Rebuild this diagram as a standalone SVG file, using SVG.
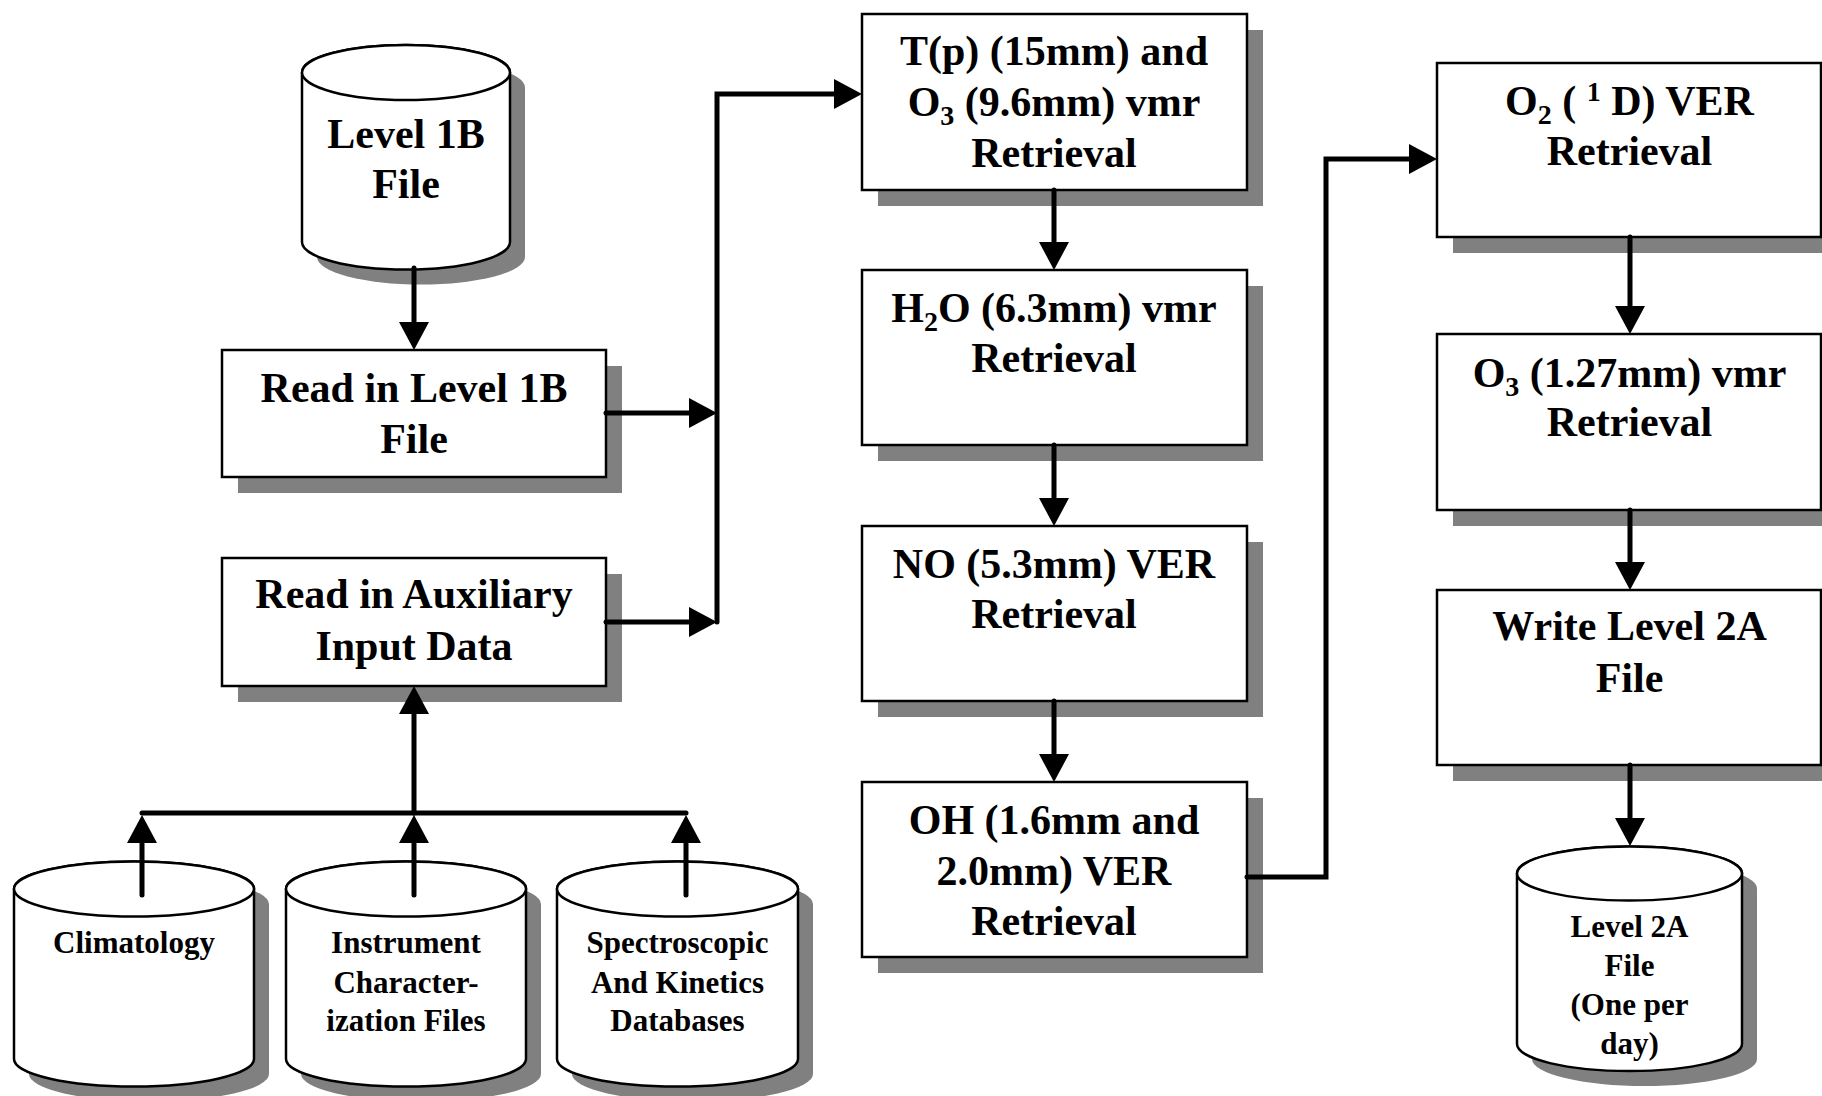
<svg xmlns="http://www.w3.org/2000/svg" width="1822" height="1096" viewBox="0 0 1822 1096">
<defs>
<style>
.shadow{fill:#808080;stroke:none}
.box{fill:#fff;stroke:#000;stroke-width:2.5}
.t{font-family:"Liberation Serif","Times New Roman",serif;font-weight:bold;font-size:42px;text-anchor:middle;fill:#000}
.ts{font-size:31px}
.conn{fill:none;stroke:#000;stroke-width:5;stroke-linecap:round;stroke-linejoin:miter}
</style>
<marker id="ah" markerUnits="userSpaceOnUse" markerWidth="28" markerHeight="30" viewBox="0 0 28 30" refX="8" refY="15" orient="auto">
<path d="M0,0 L28,15 L0,30 Z" fill="#000"/>
</marker>
</defs>
<rect width="1822" height="1096" fill="#fff"/>

<g id="level1b-file">
<path class="shadow" d="M317,87.5 V257 A104,27.5 0 0 0 525,257 V87.5 A104,27.5 0 0 0 317,87.5 Z"/>
<path class="box" d="M302,72.5 V242 A104,27.5 0 0 0 510,242 V72.5 A104,27.5 0 0 0 302,72.5 Z"/>
<ellipse class="box" cx="406" cy="72.5" rx="104" ry="27.5"/>
<text class="t" x="406" y="148">Level 1B</text>
<text class="t" x="406" y="198">File</text>
</g>

<g id="read-level1b">
<rect class="shadow" x="238" y="366" width="384" height="127"/>
<rect class="box" x="222" y="350" width="384" height="127"/>
<text class="t" x="414" y="402">Read in Level 1B</text>
<text class="t" x="414" y="453">File</text>
</g>

<g id="read-aux">
<rect class="shadow" x="238" y="574" width="384" height="128"/>
<rect class="box" x="222" y="558" width="384" height="128"/>
<text class="t" x="414" y="608">Read in Auxiliary</text>
<text class="t" x="414" y="660">Input Data</text>
</g>

<g id="climatology">
<path class="shadow" d="M29,904 V1074 A120,27.5 0 0 0 269,1074 V904 A120,27.5 0 0 0 29,904 Z"/>
<path class="box" d="M14,889 V1059 A120,27.5 0 0 0 254,1059 V889 A120,27.5 0 0 0 14,889 Z"/>
<ellipse class="box" cx="134" cy="889" rx="120" ry="27.5"/>
<text class="t ts" x="134" y="953">Climatology</text>
</g>

<g id="instrument">
<path class="shadow" d="M301,904 V1074 A120,27.5 0 0 0 541,1074 V904 A120,27.5 0 0 0 301,904 Z"/>
<path class="box" d="M286,889 V1059 A120,27.5 0 0 0 526,1059 V889 A120,27.5 0 0 0 286,889 Z"/>
<ellipse class="box" cx="406" cy="889" rx="120" ry="27.5"/>
<text class="t ts" x="406" y="953">Instrument</text>
<text class="t ts" x="406" y="993">Character-</text>
<text class="t ts" x="406" y="1031">ization Files</text>
</g>

<g id="spectroscopic">
<path class="shadow" d="M572,904 V1074 A120.5,27.5 0 0 0 813,1074 V904 A120.5,27.5 0 0 0 572,904 Z"/>
<path class="box" d="M557,889 V1059 A120.5,27.5 0 0 0 798,1059 V889 A120.5,27.5 0 0 0 557,889 Z"/>
<ellipse class="box" cx="677.5" cy="889" rx="120.5" ry="27.5"/>
<text class="t ts" x="677.5" y="953">Spectroscopic</text>
<text class="t ts" x="677.5" y="993">And Kinetics</text>
<text class="t ts" x="677.5" y="1031">Databases</text>
</g>

<g id="tp-o3-retrieval">
<rect class="shadow" x="878" y="30" width="385" height="176"/>
<rect class="box" x="862" y="14" width="385" height="176"/>
<text class="t" x="1054" y="65">T(p) (15mm) and</text>
<text class="t" x="1054" y="116">O<tspan font-size="28" dy="9">3</tspan><tspan dy="-9"> (9.6mm) vmr</tspan></text>
<text class="t" x="1054" y="167">Retrieval</text>
</g>

<g id="h2o-retrieval">
<rect class="shadow" x="878" y="286" width="385" height="175"/>
<rect class="box" x="862" y="270" width="385" height="175"/>
<text class="t" x="1054" y="322">H<tspan font-size="28" dy="9">2</tspan><tspan dy="-9">O (6.3mm) vmr</tspan></text>
<text class="t" x="1054" y="372">Retrieval</text>
</g>

<g id="no-retrieval">
<rect class="shadow" x="878" y="542" width="385" height="175"/>
<rect class="box" x="862" y="526" width="385" height="175"/>
<text class="t" x="1054" y="578">NO (5.3mm) VER</text>
<text class="t" x="1054" y="628">Retrieval</text>
</g>

<g id="oh-retrieval">
<rect class="shadow" x="878" y="798" width="385" height="175"/>
<rect class="box" x="862" y="782" width="385" height="175"/>
<text class="t" x="1054" y="834">OH (1.6mm and</text>
<text class="t" x="1054" y="885">2.0mm) VER</text>
<text class="t" x="1054" y="935">Retrieval</text>
</g>

<g id="o2-retrieval">
<rect class="shadow" x="1453" y="79" width="384" height="174"/>
<rect class="box" x="1437" y="63" width="384" height="174"/>
<text class="t" x="1629.5" y="115">O<tspan font-size="28" dy="9">2</tspan><tspan dy="-9"> ( </tspan><tspan font-size="28" dy="-14">1</tspan><tspan dy="14"> D) VER</tspan></text>
<text class="t" x="1629.5" y="165">Retrieval</text>
</g>

<g id="o3-retrieval">
<rect class="shadow" x="1453" y="350" width="384" height="176"/>
<rect class="box" x="1437" y="334" width="384" height="176"/>
<text class="t" x="1629.5" y="387">O<tspan font-size="28" dy="9">3</tspan><tspan dy="-9"> (1.27mm) vmr</tspan></text>
<text class="t" x="1629.5" y="436">Retrieval</text>
</g>

<g id="write-level2a">
<rect class="shadow" x="1453" y="606" width="384" height="175"/>
<rect class="box" x="1437" y="590" width="384" height="175"/>
<text class="t" x="1629.5" y="640">Write Level 2A</text>
<text class="t" x="1629.5" y="692">File</text>
</g>

<g id="level2a-file">
<path class="shadow" d="M1532,888.5 V1059 A112.5,27 0 0 0 1757,1059 V888.5 A112.5,27 0 0 0 1532,888.5 Z"/>
<path class="box" d="M1517,873.5 V1044 A112.5,27 0 0 0 1742,1044 V873.5 A112.5,27 0 0 0 1517,873.5 Z"/>
<ellipse class="box" cx="1629.5" cy="873.5" rx="112.5" ry="27"/>
<text class="t ts" x="1629.5" y="937">Level 2A</text>
<text class="t ts" x="1629.5" y="976">File</text>
<text class="t ts" x="1629.5" y="1015">(One per</text>
<text class="t ts" x="1629.5" y="1054">day)</text>
</g>

<g id="connectors">
<path class="conn" marker-end="url(#ah)" d="M414,268 V330"/>
<path class="conn" marker-end="url(#ah)" d="M606,413 H697"/>
<path class="conn" marker-end="url(#ah)" d="M606,622 H697"/>
<path class="conn" marker-end="url(#ah)" d="M717,622 V94 H842"/>
<path class="conn" marker-end="url(#ah)" d="M1054,190 V250"/>
<path class="conn" marker-end="url(#ah)" d="M1054,445 V506"/>
<path class="conn" marker-end="url(#ah)" d="M1054,701 V762"/>
<path class="conn" marker-end="url(#ah)" d="M1247,877 H1326 V159 H1417"/>
<path class="conn" marker-end="url(#ah)" d="M1630,237 V314"/>
<path class="conn" marker-end="url(#ah)" d="M1630,510 V570"/>
<path class="conn" marker-end="url(#ah)" d="M1630,765 V826"/>
<path class="conn" marker-end="url(#ah)" d="M414,813 V706"/>
<path class="conn" d="M142,813 H686"/>
<path class="conn" marker-end="url(#ah)" d="M142,895 V835"/>
<path class="conn" marker-end="url(#ah)" d="M414,895 V835"/>
<path class="conn" marker-end="url(#ah)" d="M686,895 V835"/>
</g>
</svg>
